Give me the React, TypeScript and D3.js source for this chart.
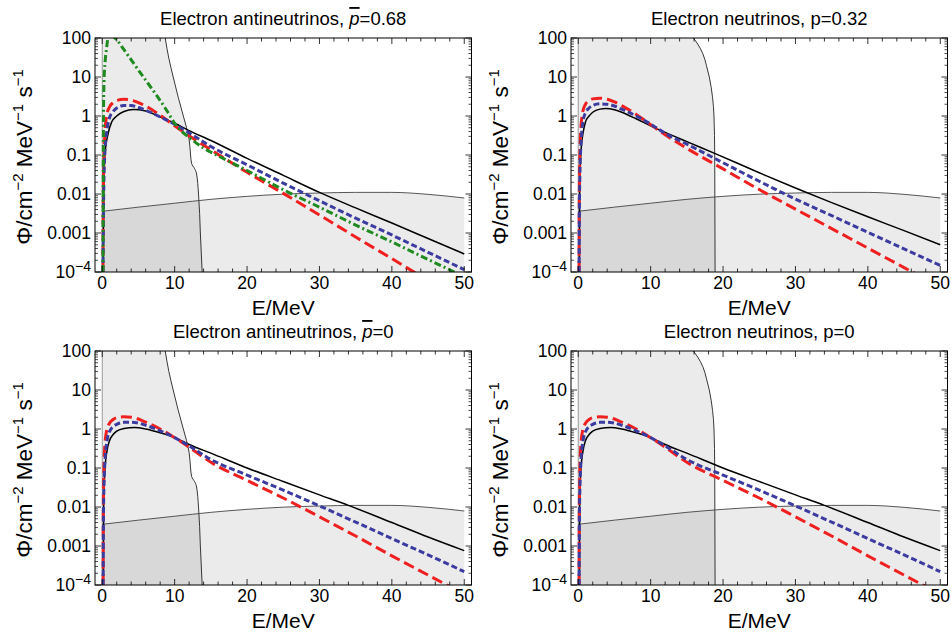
import React from "react";
import * as d3 from "d3";

type Pt = [number, number];

// axis ticks
const energyTicks = [0, 10, 20, 30, 40, 50];
const fluxTicks = [1e-4, 1e-3, 1e-2, 1e-1, 1, 10, 100];
const fluxTickLabels = ["10", "0.001", "0.01", "0.1", "1", "10", "100"];

// [E/MeV, flux]
// top left: antineutrinos, pbar = 0.68
const blackAnti068: Pt[] = [[0.12, 1e-4], [0.2, 0.01], [0.37, 0.1], [0.8, 0.35], [1.3, 0.7], [2, 1.0], [3, 1.3], [4.3, 1.46], [6, 1.35], [8, 0.95], [10, 0.65], [12, 0.42], [15, 0.235], [20, 0.082], [25, 0.03], [30, 0.011], [35, 0.0044], [40, 0.0018], [45, 0.00072], [50, 0.00029]];
const redAnti068: Pt[] = [[0.1, 1e-4], [0.15, 0.01], [0.3, 0.2], [0.6, 1.0], [1, 1.7], [1.5, 2.2], [2, 2.5], [3, 2.7], [4, 2.55], [5, 2.2], [6, 1.8], [8, 1.05], [10, 0.56], [12, 0.31], [15, 0.136], [20, 0.036], [25, 0.0104], [30, 0.0029], [35, 0.00079], [40, 0.00022], [45, 6e-5]];
const blueAnti068: Pt[] = [[0.1, 1e-4], [0.2, 0.01], [0.35, 0.1], [0.7, 0.5], [1, 0.9], [1.5, 1.3], [2, 1.6], [3, 1.85], [4, 1.85], [5, 1.65], [6, 1.4], [8, 0.95], [10, 0.62], [12, 0.37], [15, 0.165], [20, 0.056], [25, 0.019], [30, 0.0067], [35, 0.0024], [40, 0.00089], [45, 0.00032], [50, 0.000115]];
const greenAnti068: Pt[] = [[0.1, 1e-4], [0.13, 0.01], [0.17, 1], [0.25, 8], [0.4, 25], [0.6, 55], [0.8, 100], [1.2, 125], [1.75, 100], [2, 90], [3, 50], [4, 27.5], [5, 15], [6, 8.3], [7, 4.6], [8, 2.5], [9, 1.3], [10, 0.65], [11, 0.4], [12, 0.28], [14, 0.15], [16, 0.095], [20, 0.04], [25, 0.0129], [30, 0.0046], [35, 0.0016], [40, 0.00059], [45, 0.00021], [50, 7.6e-5]];

// top right: neutrinos, p = 0.32
const blackNu032: Pt[] = [[0.15, 1e-4], [0.2, 0.01], [0.35, 0.1], [0.7, 0.4], [1, 0.7], [1.5, 1.0], [2, 1.25], [3, 1.5], [3.8, 1.55], [5, 1.45], [6, 1.25], [8, 0.85], [10, 0.56], [12, 0.38], [15, 0.22], [19, 0.107], [25, 0.035], [30, 0.0142], [35, 0.006], [40, 0.0026], [45, 0.00115], [50, 0.0005]];
const redNu032: Pt[] = [[0.12, 1e-4], [0.15, 0.01], [0.3, 0.3], [0.6, 1.2], [1, 2.0], [1.5, 2.5], [2, 2.75], [3, 2.85], [4, 2.7], [5, 2.3], [6, 1.85], [8, 1.1], [10, 0.6], [12, 0.33], [15, 0.148], [20, 0.044], [25, 0.013], [30, 0.0041], [35, 0.0013], [40, 0.00041], [45, 0.00013], [50, 4.2e-5]];
const blueNu032: Pt[] = [[0.12, 1e-4], [0.18, 0.01], [0.35, 0.15], [0.7, 0.8], [1, 1.2], [1.5, 1.6], [2, 1.85], [3, 2.05], [4, 2.0], [5, 1.8], [6, 1.5], [8, 1.0], [10, 0.62], [12, 0.36], [15, 0.19], [19, 0.079], [25, 0.0212], [30, 0.0074], [35, 0.0028], [40, 0.00104], [45, 0.00039], [50, 0.000148]];

// bottom row: p = 0 (same spectra in both panels)
const blackP0: Pt[] = [[0.15, 1e-4], [0.2, 0.01], [0.35, 0.08], [0.7, 0.3], [1, 0.5], [1.5, 0.72], [2, 0.88], [3, 1.03], [4.5, 1.09], [6, 1.0], [8, 0.8], [10, 0.6], [12, 0.4], [15, 0.24], [20, 0.1], [25, 0.045], [30, 0.0205], [34, 0.011], [40, 0.004], [45, 0.0017], [50, 0.00076]];
const redP0: Pt[] = [[0.12, 1e-4], [0.15, 0.01], [0.3, 0.25], [0.6, 0.9], [1, 1.4], [1.5, 1.75], [2, 1.95], [3, 2.05], [4, 2.0], [5, 1.8], [6, 1.5], [8, 1.0], [10, 0.6], [12, 0.34], [15, 0.14], [20, 0.048], [25, 0.017], [30, 0.0056], [35, 0.0018], [40, 0.00056], [45, 0.00018], [50, 5.8e-5]];
const blueP0: Pt[] = [[0.12, 1e-4], [0.18, 0.01], [0.35, 0.12], [0.7, 0.55], [1, 0.85], [1.5, 1.15], [2, 1.32], [3, 1.48], [4, 1.5], [5, 1.42], [6, 1.25], [8, 0.9], [10, 0.6], [12, 0.37], [15, 0.165], [20, 0.066], [25, 0.027], [30, 0.0107], [35, 0.0041], [40, 0.00155], [45, 0.00059], [50, 0.00022]];

// background band (lower shaded region), [E, flux]
const background: Pt[] = [[0, 0.0036], [5, 0.0046], [10, 0.0058], [15, 0.0073], [20, 0.0087], [25, 0.0099], [30, 0.0106], [35, 0.011], [40, 0.011], [45, 0.0098], [50, 0.0079]];

// left shaded region boundaries, [flux, E]
const antiCut: Pt[] = [[100, 8.7], [30, 9.2], [10, 9.8], [3, 10.5], [1, 11.2], [0.5, 11.65], [0.25, 12.0], [0.1, 12.2], [0.06, 12.35], [0.045, 12.75], [0.035, 13.0], [0.01, 13.3], [0.001, 13.55], [1e-4, 13.8]];
const nuCut: Pt[] = [[100, 15.9], [70, 16.5], [40, 17.2], [20, 17.7], [10, 18.1], [3, 18.55], [1, 18.75], [0.1, 18.85], [1e-4, 18.9]];

const font = "'Liberation Sans', Arial, sans-serif";

const x = d3.scaleLinear().domain([-1, 51]).range([95, 471.5]);
const y = d3.scaleLog().domain([1e-4, 100]).range([272, 38]);

const curveLine = d3.line<Pt>().x(d => x(d[0])).y(d => y(d[1])).curve(d3.curveMonotoneX);
const cutLine = d3.line<Pt>().x(d => x(d[1])).y(d => y(d[0])).curve(d3.curveMonotoneY);
const cutArea = d3.area<Pt>().y(d => y(d[0])).x0(x(0)).x1(d => x(d[1])).curve(d3.curveMonotoneY);
const bgArea = d3.area<Pt>().x(d => x(d[0])).y0(y(1e-4)).y1(d => y(d[1])).curve(d3.curveMonotoneX);

const minorE = d3.range(0, 51, 2);
const minorFlux = d3.range(-4, 2).flatMap(p => d3.range(2, 10).map(m => m * Math.pow(10, p)));

type Series = { data: Pt[]; color: string; width: number; dash?: string };

function Panel({ id, dx, dy, title, cut, series }: { id: string; dx: number; dy: number; title: React.ReactNode; cut: Pt[]; series: Series[] }) {
  const [x0, x1] = x.range();
  const [y1, y0] = y.range();
  return (
    <g transform={`translate(${dx},${dy})`} fontFamily={font}>
      <defs>
        <clipPath id={id}>
          <rect x={x0} y={y0} width={x1 - x0} height={y1 - y0} />
        </clipPath>
      </defs>
      <text x={(x(0) + x(50)) / 2} y={25} textAnchor="middle" fontSize={18.5}>{title}</text>
      <g clipPath={`url(#${id})`}>
        <path d={cutArea(cut)!} fill="#000" fillOpacity={0.08} />
        <path d={bgArea(background)!} fill="#000" fillOpacity={0.08} />
        <line x1={x(0)} x2={x(0)} y1={y0} y2={y1} stroke="#999" strokeWidth={1} />
        <path d={cutLine(cut)!} fill="none" stroke="#222" strokeWidth={0.9} />
        <path d={curveLine(background)!} fill="none" stroke="#444" strokeWidth={0.9} />
        {series.map((s, i) => (
          <path key={i} d={curveLine(s.data)!} fill="none" stroke={s.color} strokeWidth={s.width} strokeDasharray={s.dash} />
        ))}
      </g>
      {/* frame ticks */}
      {minorE.map(e => {
        const len = e % 10 === 0 ? 6 : 3.5;
        return (
          <g key={"e" + e} stroke="#000" strokeWidth={0.8}>
            <line x1={x(e)} x2={x(e)} y1={y1} y2={y1 - len} />
            <line x1={x(e)} x2={x(e)} y1={y0} y2={y0 + len} />
          </g>
        );
      })}
      {fluxTicks.map(f => (
        <g key={"f" + f} stroke="#000" strokeWidth={0.8}>
          <line x1={x0} x2={x0 + 6} y1={y(f)} y2={y(f)} />
          <line x1={x1} x2={x1 - 6} y1={y(f)} y2={y(f)} />
        </g>
      ))}
      {minorFlux.map(f => (
        <g key={"m" + f} stroke="#000" strokeWidth={0.7}>
          <line x1={x0} x2={x0 + 3} y1={y(f)} y2={y(f)} />
          <line x1={x1} x2={x1 - 3} y1={y(f)} y2={y(f)} />
        </g>
      ))}
      <rect x={x0} y={y0} width={x1 - x0} height={y1 - y0} fill="none" stroke="#000" strokeWidth={1} />
      {energyTicks.map(e => (
        <text key={"el" + e} x={x(e)} y={288.5} textAnchor="middle" fontSize={17.5}>{e}</text>
      ))}
      {fluxTicks.map((f, i) => (
        <text key={"fl" + f} x={91} y={y(f)} dy="0.36em" textAnchor="end" fontSize={17.5}>
          {fluxTickLabels[i]}
          {f === 1e-4 && <tspan dy={-7} fontSize={14}>{"\u22124"}</tspan>}
        </text>
      ))}
      <text x={(x(0) + x(50)) / 2} y={314.5} textAnchor="middle" fontSize={21}>E/MeV</text>
      <text transform={`translate(32,${(y0 + y1) / 2 + 2}) rotate(-90)`} textAnchor="middle" fontSize={22.5}>
        {"\u03A6/cm"}
        <tspan dy={-9} fontSize={15}>{"\u22122"}</tspan>
        <tspan dy={9}>{" MeV"}</tspan>
        <tspan dy={-9} fontSize={15}>{"\u22121"}</tspan>
        <tspan dy={9}>{" s"}</tspan>
        <tspan dy={-9} fontSize={15}>{"\u22121"}</tspan>
      </text>
    </g>
  );
}

const RED = "#ee2020";
const BLUE = "#3c3ca0";
const GREEN = "#1f8a1f";

const pbar = <tspan fontStyle="italic" style={{ textDecoration: "overline" }}>p</tspan>;

export default function App() {
  const mk = (black: Pt[], red: Pt[], blue: Pt[], green?: Pt[]): Series[] => {
    const s: Series[] = [
      { data: black, color: "#000", width: 1.5 },
      { data: red, color: RED, width: 3, dash: "11,5" },
      { data: blue, color: BLUE, width: 3, dash: "6,3" },
    ];
    if (green) s.push({ data: green, color: GREEN, width: 3, dash: "7,3,2,3" });
    return s;
  };
  return (
    <svg width={952} height={632} style={{ position: "absolute", left: 0, top: 0, background: "#fff" }}>
      <rect width={952} height={632} fill="#fff" />
      <Panel id="c1" dx={0} dy={0} cut={antiCut}
        title={<>Electron antineutrinos, {pbar}=0.68</>}
        series={mk(blackAnti068, redAnti068, blueAnti068, greenAnti068)} />
      <Panel id="c2" dx={476} dy={0} cut={nuCut}
        title={<>Electron neutrinos, p=0.32</>}
        series={mk(blackNu032, redNu032, blueNu032)} />
      <Panel id="c3" dx={0} dy={313} cut={antiCut}
        title={<>Electron antineutrinos, {pbar}=0</>}
        series={mk(blackP0, redP0, blueP0)} />
      <Panel id="c4" dx={476} dy={313} cut={nuCut}
        title={<>Electron neutrinos, p=0</>}
        series={mk(blackP0, redP0, blueP0)} />
    </svg>
  );
}
